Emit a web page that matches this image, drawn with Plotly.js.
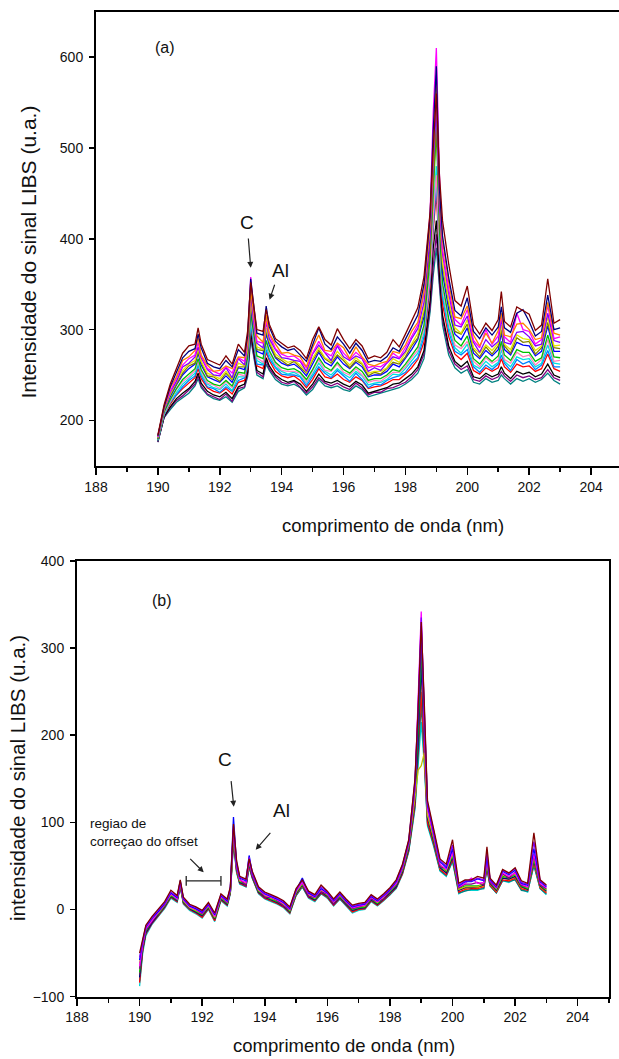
<!DOCTYPE html>
<html>
<head>
<meta charset="utf-8">
<script src="https://cdn.plot.ly/plotly-3.0.1.min.js"></script>
<style>
html,body{margin:0;padding:0;overflow:hidden;background:#fff;}
#chart{width:622px;height:1059px;}
</style>
</head>
<body>
<div id="chart"></div>
<script>
// ---- data ----
const wavelength = [190.0,190.1,190.2,190.4,190.6,190.8,191.0,191.2,191.3,191.4,
191.6,191.8,192.0,192.2,192.4,192.6,192.8,192.9,193.0,193.1,
193.2,193.4,193.5,193.6,193.8,194.0,194.2,194.4,194.6,194.8,
195.0,195.2,195.4,195.6,195.8,196.0,196.2,196.4,196.6,196.8,
197.0,197.2,197.4,197.6,197.8,198.0,198.2,198.4,198.6,198.8,
198.9,199.0,199.1,199.2,199.4,199.6,199.8,200.0,200.2,200.4,
200.6,200.8,201.0,201.1,201.2,201.4,201.6,201.8,202.0,202.2,
202.4,202.6,202.8,203.0];

// panel (a): raw LIBS spectra
const a01 = [184,199,217,240,257,274,282,284,302,284, 267,264,261,271,262,284,275,298,352,326, 300,298,322,306,290,285,280,282,277,268, 289,303,289,283,301,289,279,289,282,268, 271,269,275,289,281,295,309,324,358,430, 500,560,470,420,372,332,326,348,305,295, 307,299,311,342,309,303,325,321,317,299, 305,356,307,311];
const a02 = [183,198,215,237,253,269,276,279,295,280, 263,259,257,266,259,278,271,293,356,322, 296,294,326,303,287,281,277,279,272,265, 283,302,284,278,292,284,274,285,277,264, 266,265,270,280,276,289,302,316,350,425, 520,590,455,403,357,321,315,335,298,290, 302,294,303,325,302,297,318,322,309,293, 298,338,300,302];
const a11 = [183,197,214,236,248,266,270,277,291,272, 261,254,255,260,257,270,269,287,342,318, 293,286,316,296,284,274,275,272,270,259, 280,294,277,276,285,280,268,281,270,262, 260,263,265,276,274,283,298,308,342,418, 505,575,452,398,352,314,312,326,294,282, 296,285,299,318,294,292,306,307,300,289, 291,330,296,294];
const a03 = [182,197,214,232,247,261,268,272,286,271, 257,254,251,259,252,269,265,285,358,313, 287,285,310,295,279,273,270,271,266,258, 274,287,275,271,284,274,267,275,269,258, 260,259,264,274,269,280,292,305,340,430, 540,610,470,388,344,311,305,322,288,280, 300,284,293,316,292,286,318,300,298,284, 289,327,290,292];
const a12 = [182,196,213,231,243,259,263,270,281,269, 256,250,249,258,247,268,261,284,338,308, 285,280,309,290,278,269,268,266,265,254, 273,283,274,266,282,270,266,271,268,254, 258,255,263,270,268,276,290,301,330,402, 485,545,436,384,340,305,303,315,286,275, 289,281,287,312,286,284,297,298,292,282, 284,318,288,286];
const a04 = [181,196,212,229,243,255,262,266,280,265, 252,249,246,254,246,263,260,279,332,306, 281,278,302,288,273,268,264,266,261,253, 268,280,269,265,276,268,261,269,263,252, 254,254,258,268,264,274,284,296,323,410, 500,560,440,374,332,302,296,311,280,274, 283,277,285,305,284,278,294,290,289,277, 282,314,282,283];
const a13 = [180,195,212,228,240,252,260,263,276,264, 249,248,243,252,245,259,259,275,330,302, 278,277,299,286,270,266,261,265,258,252, 266,277,268,263,272,266,258,266,262,249, 253,251,257,264,262,270,282,291,320,388, 460,530,422,370,329,298,295,306,278,270, 281,273,282,300,282,274,291,286,287,273, 280,308,280,279];
const a05 = [180,195,211,226,239,250,257,262,274,261, 248,245,242,249,242,258,256,274,325,300, 276,273,295,283,269,263,260,262,257,249, 262,275,264,260,270,262,257,264,259,248, 250,250,254,262,259,268,278,289,314,395, 480,580,430,362,322,295,289,302,274,268, 277,271,278,296,278,272,286,283,282,271, 276,304,276,276];
const a06 = [179,194,209,223,235,245,251,257,268,256, 244,240,238,244,238,253,252,269,318,294, 271,268,288,277,264,258,256,257,253,245, 256,269,259,255,264,256,252,259,254,244, 246,246,250,256,254,262,271,281,305,380, 450,520,410,351,312,288,282,293,268,262, 271,265,271,287,272,266,278,275,275,265, 269,294,270,269];
const a14 = [179,194,208,221,234,243,248,255,265,254, 241,239,235,243,236,251,249,267,316,290, 269,264,286,275,262,255,254,254,252,242, 255,267,255,254,262,253,250,257,250,242, 244,243,248,253,253,259,269,277,301,360, 425,470,395,346,308,283,279,287,265,259, 269,263,267,283,267,263,275,270,272,261, 267,289,265,266];
const a07 = [178,193,207,220,231,240,246,252,263,251, 240,236,234,240,233,248,248,264,311,288, 266,262,282,272,259,254,251,253,249,241, 251,263,254,250,257,251,247,254,249,239, 241,242,245,251,250,257,265,274,296,365, 430,480,395,340,302,280,274,284,261,257, 265,259,264,278,265,259,270,267,268,259, 263,283,263,262];
const a15 = [178,193,206,220,229,237,244,249,261,249, 237,235,231,237,232,244,247,260,306,286, 262,261,278,268,258,251,250,250,248,238, 249,259,252,247,255,249,243,252,245,236, 240,239,244,247,249,253,262,269,292,355, 415,460,385,336,298,276,272,278,259,253, 261,256,262,272,263,255,267,262,265,256, 261,277,259,259];
const a08 = [178,192,206,218,228,235,241,247,257,246, 236,232,230,235,229,242,244,258,304,282, 260,257,275,266,254,249,247,249,244,236, 245,257,248,246,251,245,242,248,244,235, 237,238,241,245,245,251,258,267,286,350, 410,450,380,328,292,273,267,274,255,251, 258,254,258,268,259,253,262,259,260,254, 257,273,257,254];
const a09 = [177,191,204,215,224,230,235,243,252,241, 232,228,226,231,224,237,240,253,297,276, 255,251,269,260,250,245,242,244,240,232, 240,251,243,241,244,240,237,243,239,230, 232,234,236,240,241,246,251,259,277,332, 390,420,360,316,282,265,259,265,248,246, 252,248,251,259,252,246,254,251,253,248, 251,262,250,247];
const a16 = [176,191,203,214,222,227,233,240,249,238, 229,226,223,229,221,235,237,251,294,272, 253,248,266,257,248,242,240,243,237,230, 237,247,241,238,241,237,234,241,236,228, 231,231,235,236,239,242,248,256,273,325, 370,405,352,311,277,262,256,260,245,243, 249,245,248,254,249,243,250,247,249,245, 247,256,247,244];
const a10 = [176,190,203,212,220,225,230,238,246,236, 228,224,222,226,220,232,236,248,290,270, 250,246,262,255,245,240,238,240,236,228, 234,245,238,236,238,234,232,238,234,226, 228,230,232,234,236,240,245,252,268,320, 360,390,345,305,272,258,252,256,242,240, 246,242,244,250,246,240,246,243,246,242, 245,252,244,240];

// panel (b): offset-corrected spectra
const b01 = [-50,-32,-18,-8,0,9,22,16,34,14, 6,3,-1,8,-4,18,12,26,98,56, 38,35,58,44,26,20,17,14,10,3, 24,34,21,17,28,21,12,20,12,5, 7,8,17,12,18,25,34,52,80,150, 230,330,235,125,92,58,52,80,30,34, 34,38,36,72,36,28,46,42,48,33, 30,88,34,28];
const b02 = [-58,-36,-20,-10,-2,7,19,14,33,12, 4,1,-3,6,-6,16,10,24,106,52, 36,33,62,42,24,18,15,12,8,1, 22,36,19,15,24,19,10,18,10,3, 5,6,15,10,16,23,32,50,78,145, 220,325,225,120,88,55,48,70,27,32, 32,35,33,60,34,26,44,40,45,30, 28,70,32,26];
const b03 = [-65,-40,-22,-12,-3,6,18,12,31,11, 3,0,-4,5,-8,15,9,23,92,50, 34,31,56,41,23,17,14,11,7,0, 21,31,18,14,23,18,9,17,9,2, 4,5,14,9,15,22,30,48,76,140, 240,342,210,115,85,52,46,66,26,30, 36,30,31,56,33,25,42,38,42,29, 26,64,30,25];
const b04 = [-72,-42,-25,-13,-5,4,16,11,29,9, 2,-2,-6,3,-10,13,7,21,86,48, 32,29,54,39,21,15,12,9,5,-2, 19,29,16,12,21,16,7,15,7,0, 2,3,12,7,13,20,28,45,72,132, 205,300,195,110,80,50,44,62,24,27, 27,27,29,52,31,23,38,36,40,27, 24,58,28,22];
const b05 = [-78,-45,-27,-15,-6,3,15,10,28,8, 1,-3,-7,2,-11,12,6,20,84,46, 31,28,52,38,20,14,11,8,4,-3, 18,28,15,11,20,15,6,14,6,-1, 1,2,11,6,12,19,26,43,70,125, 190,280,185,105,78,48,42,60,22,25, 25,26,28,50,30,22,36,35,38,26, 23,56,27,21];
const b06 = [-84,-47,-28,-16,-7,2,14,9,27,7, 0,-4,-9,1,-13,11,5,19,80,44, 30,27,50,37,19,13,10,7,3,-4, 17,27,14,10,19,14,5,13,5,-3, 0,1,10,5,11,18,25,41,68,120, 180,250,175,100,75,46,40,58,20,23, 24,24,26,48,28,20,34,33,36,24, 22,54,25,19];
const b07 = [-88,-50,-30,-17,-8,1,13,8,26,6, -1,-5,-10,0,-14,10,4,18,76,42, 29,26,48,36,18,12,9,6,2,-5, 16,26,13,9,18,13,4,12,4,-4, -1,0,9,4,10,17,24,40,66,115, 170,215,165,96,72,44,38,55,18,22, 22,22,25,46,27,19,33,31,35,23, 20,52,24,17];
const b08 = [-62,-38,-21,-11,-4,5,17,13,30,10, 2,-1,-5,4,-9,14,8,22,90,49, 33,30,55,40,22,16,13,10,6,-1, 20,30,17,13,22,17,8,16,8,1, 3,4,13,8,14,21,29,46,74,128, 160,165,180,108,82,51,45,64,23,26, 26,26,30,54,32,24,40,37,41,28, 25,60,29,23];
const b09 = [-68,-41,-23,-14,-3,5,19,12,30,11, 4,0,-5,5,-7,15,8,23,93,47, 35,27,57,38,24,14,14,10,4,0, 22,31,15,14,20,18,6,17,8,1, 3,5,12,9,12,22,29,47,75,138, 225,318,200,118,84,49,47,68,25,29, 29,31,28,58,31,25,41,36,43,28, 26,62,28,24];
const b10 = [-75,-44,-26,-12,-5,4,15,13,28,9, 1,-2,-6,3,-9,13,7,20,85,45, 31,30,52,39,21,16,11,9,6,-2, 18,27,17,11,21,15,8,14,7,0, 1,3,11,7,13,19,27,44,71,128, 195,270,190,108,79,47,43,61,23,24, 26,25,27,50,29,21,37,34,37,25, 23,55,26,20];
const b11 = [-82,-46,-27,-15,-7,3,14,10,26,8, 0,-3,-8,2,-12,12,5,19,78,43, 30,26,49,36,19,13,10,7,3,-3, 16,26,14,10,18,14,5,12,5,-2, 0,1,10,5,11,17,25,42,67,118, 175,235,170,98,74,45,39,56,19,21, 23,23,24,47,27,19,33,32,34,22, 21,50,24,18];
const b12 = [-55,-35,-19,-9,-1,8,20,15,32,13, 5,2,-2,7,-5,17,11,25,96,54, 37,34,60,43,25,19,16,13,9,2, 23,33,20,16,26,20,11,19,11,4, 6,7,16,11,17,24,33,51,79,148, 232,335,228,122,90,56,50,74,28,33, 33,36,34,65,35,27,45,41,47,31, 29,78,33,27];

const xTickVals = [188,190,192,194,196,198,200,202,204];
const yTickValsA = [200,300,400,500,600];
const yTickValsB = [-100,0,100,200,300,400];

const seriesA = [a10,a16,a09,a08,a15,a07,a14,a06,a05,a13,a04,a12,a03,a11,a02,a01];
const seriesB = [b07,b11,b06,b10,b05,b04,b08,b09,b03,b02,b12,b01];

// ---- styles ----
const colorsA = ['#008080','#800080','#000000','#ff0000','#0080ff','#00e0e0','#ff80c0','#00c000','#0000ff','#808000','#e6e600','#8000ff','#ff00ff','#ff8000','#000080','#800000'];
const colorsB = ['#00d0d0','#008080','#ff0000','#ff8000','#000080','#00c000','#c0c000','#800080','#ff00ff','#0000ff','#8000ff','#800000'];

const traces = [];
seriesA.forEach((s,i)=>traces.push({x:wavelength,y:s,type:'scatter',mode:'lines',
  line:{color:colorsA[i],width:1.3},xaxis:'x',yaxis:'y',showlegend:false,hoverinfo:'skip'}));
seriesB.forEach((s,i)=>traces.push({x:wavelength,y:s,type:'scatter',mode:'lines',
  line:{color:colorsB[i],width:1.3},xaxis:'x2',yaxis:'y2',showlegend:false,hoverinfo:'skip'}));

const W=622,H=1059;
const FF='Liberation Sans, Arial, sans-serif';
const tickFont={family:FF,size:14,color:'#111'};
function xax(domain,anchor){return {domain:domain,anchor:anchor,range:[188,205],tickmode:'array',tickvals:xTickVals,
  ticks:'outside',ticklen:7,tickwidth:1.5,tickcolor:'#000',showline:true,linecolor:'#000',linewidth:2,mirror:true,
  showgrid:false,zeroline:false,tickfont:tickFont,minor:{dtick:1,tick0:188,ticks:'outside',ticklen:4,tickwidth:1.5,tickcolor:'#000'}};}
function yax(domain,anchor,range,tv){return {domain:domain,anchor:anchor,range:range,tickmode:'array',tickvals:tv,
  ticks:'outside',ticklen:5,tickwidth:1.5,tickcolor:'#000',showline:true,linecolor:'#000',linewidth:2,mirror:true,
  showgrid:false,zeroline:false,tickfont:tickFont,ticklabelstandoff:3};}

const ann = [];
const T = (txt,x,y,xref,yref,size,extra)=>Object.assign({text:txt,x:x,y:y,xref:xref,yref:yref,showarrow:false,
  xanchor:'center',yanchor:'middle',font:{family:FF,size:size,color:'#111'}},extra||{});
// axis titles
ann.push(T('comprimento de onda (nm)',392.5/W,1-525/H,'paper','paper',18.5));
ann.push(T('Intensidade do sinal LIBS (u.a.)',29/W,1-252.6/H,'paper','paper',21,{textangle:-90}));
ann.push(T('comprimento de onda (nm)',343.5/W,1-1045/H,'paper','paper',18.5));
ann.push(T('intensidade do sinal LIBS (u.a.)',17/W,1-778/H,'paper','paper',20.6,{textangle:-90}));
// panel labels
ann.push(T('(a)',190.23,611,'x','y',16));
ann.push(T('(b)',190.72,355,'x2','y2',16));
ann.push(T('C',192.87,418,'x','y',19));
ann.push(T('Al',193.95,365,'x','y',19));
ann.push(T('C',192.73,172,'x2','y2',19));
ann.push(T('Al',194.52,114,'x2','y2',19));
ann.push(T('regiao de<br>correçao do offset',188.35,88,'x2','y2',13.5,{xanchor:'left',align:'left'}));
// arrows
const A=(x,y,ax,ay,xr,yr)=>({text:'',x:x,y:y,ax:ax,ay:ay,xref:xr,yref:yr,axref:xr,ayref:yr,showarrow:true,
  arrowhead:2,arrowsize:1,arrowwidth:1.2,arrowcolor:'#222'});
ann.push(A(193.0,368,192.92,402,'x','y'));
ann.push(A(193.61,333,193.79,351,'x','y'));
ann.push(A(193.01,118,192.92,149,'x2','y2'));
ann.push(A(193.71,68.5,194.22,89.7,'x2','y2'));
ann.push(A(192.05,42.6,191.57,59.9,'x2','y2'));

const shapes=[
 {type:'line',xref:'x2',yref:'y2',x0:191.49,x1:192.6,y0:32.8,y1:32.8,line:{color:'#222',width:1.3}},
 {type:'line',xref:'x2',yref:'y2',x0:191.49,x1:191.49,y0:27.3,y1:38.3,line:{color:'#222',width:1.3}},
 {type:'line',xref:'x2',yref:'y2',x0:192.6,x1:192.6,y0:27.3,y1:38.3,line:{color:'#222',width:1.3}}
];

const layout={width:W,height:H,margin:{l:0,r:0,t:0,b:0},paper_bgcolor:'#fff',plot_bgcolor:'#fff',showlegend:false,
  xaxis:xax([96/W,1],'y'),
  yaxis:yax([1-465.8/H,1-11.8/H],'x',[150,650],yTickValsA),
  xaxis2:xax([77/W,609/W],'y2'),
  yaxis2:yax([1-996.6/H,1-561/H],'x2',[-100,400],yTickValsB),
  annotations:ann,shapes:shapes};

Plotly.newPlot('chart',traces,layout,{staticPlot:true,displayModeBar:false});
</script>
</body>
</html>
